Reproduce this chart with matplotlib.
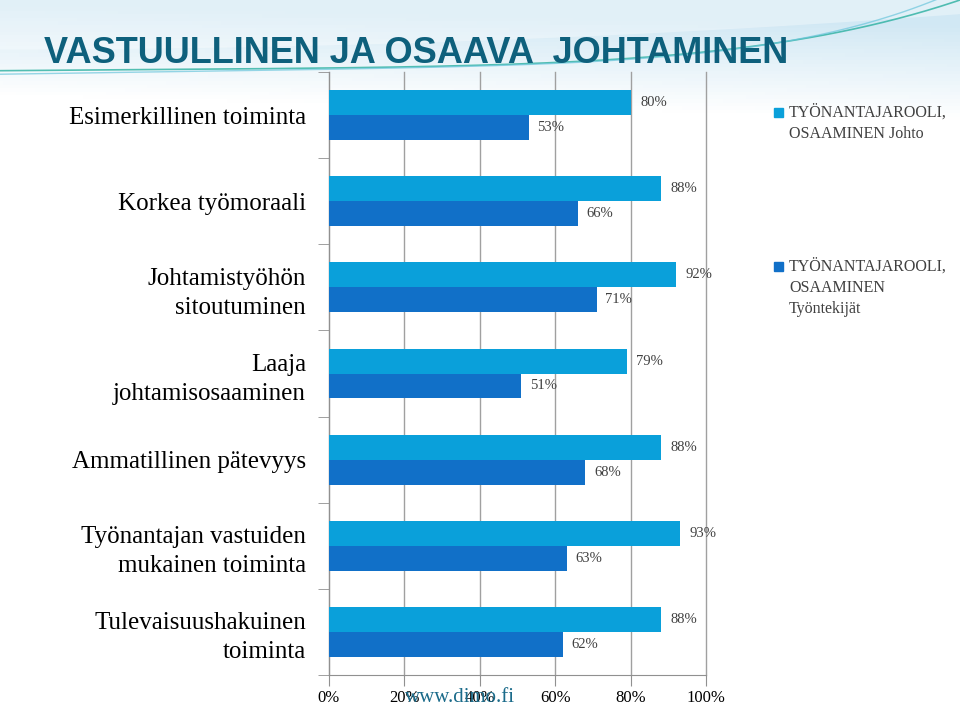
import numpy as np
import matplotlib
matplotlib.use("Agg")
import matplotlib.pyplot as plt

categories = ["Esimerkillinen toiminta", "Korkea työmoraali", "Johtamistyöhön\nsitoutuminen",
              "Laaja\njohtamisosaaminen", "Ammatillinen pätevyys",
              "Työnantajan vastuiden\nmukainen toiminta", "Tulevaisuushakuinen\ntoiminta"]
johto = [80, 88, 92, 79, 88, 93, 88]
tyontekijat = [53, 66, 71, 51, 68, 63, 62]
series_names = ["TYÖNANTAJAROOLI,\nOSAAMINEN Johto", "TYÖNANTAJAROOLI,\nOSAAMINEN\nTyöntekijät"]
xticks = [0, 20, 40, 60, 80, 100]

light = "#0AA0DA"
dark = "#1170C8"
serif = "Liberation Serif"

fig = plt.figure(figsize=(9.6, 7.07), dpi=100)

# background decoration
bg = fig.add_axes([0, 0, 1, 1], zorder=-10)
grad = np.linspace(0, 1, 200)[:, None] * np.ones((1, 300))
xx = np.linspace(0, 1, 300)[None, :]
alpha = np.clip(1 - grad * 7.5 + 0.25 * xx, 0, 1)
img = np.ones((200, 300, 4))
img[..., 0] = 0.82
img[..., 1] = 0.91
img[..., 2] = 0.96
img[..., 3] = alpha
bg.imshow(img, extent=[0, 1, 0, 1], aspect="auto", origin="upper")
t = np.linspace(0, 1, 200)
bg.plot(t, 0.9 + 0.01 * t + 0.09 * t ** 5, color="#2bb0a0", lw=1.2, alpha=0.8)
bg.plot(t, 0.895 + 0.02 * t + 0.1 * t ** 6, color="#6cc6dc", lw=1.0, alpha=0.7)
bg.fill_between(t, 0.93 + 0.05 * t ** 2, 1.0, color="white", alpha=0.35, lw=0)
bg.set_xlim(0, 1)
bg.set_ylim(0, 1)
bg.axis("off")

ax = fig.add_axes([329 / 960, 1 - 675 / 707, 377 / 960, (675 - 72) / 707])
y = np.arange(len(categories))
h = 0.29
ax.barh(y - h / 2, [v / 100 for v in johto], height=h, color=light, zorder=3)
ax.barh(y + h / 2, [v / 100 for v in tyontekijat], height=h, color=dark, zorder=3)

for i in range(len(categories)):
    ax.text(johto[i] / 100 + 0.025, y[i] - h / 2, f"{johto[i]}%", va="center", ha="left",
            fontsize=10.5, family=serif, color="#404040")
    ax.text(tyontekijat[i] / 100 + 0.023, y[i] + h / 2, f"{tyontekijat[i]}%", va="center", ha="left",
            fontsize=10.5, family=serif, color="#404040")

ax.set_xlim(0, 1)
ax.set_ylim(len(categories) - 0.5, -0.5)
ax.set_xticks([v / 100 for v in xticks])
ax.set_xticklabels([f"{v}%" for v in xticks], family=serif, fontsize=12)
ax.set_yticks(y)
ax.set_yticklabels(categories, family=serif, fontsize=18, linespacing=1.4)
ax.set_yticks(np.arange(len(categories) + 1) - 0.5, minor=True)
ax.tick_params(axis="y", which="major", length=0, pad=16.5)
ax.tick_params(axis="y", which="minor", length=8, color="#909090")
ax.tick_params(axis="x", length=8, color="#909090", pad=3)
ax.grid(axis="x", color="#a0a0a0", lw=1, zorder=0)
for gl in ax.get_xgridlines():
    gl.set_clip_on(False)
ax.set_facecolor("none")
for s in ["top", "right"]:
    ax.spines[s].set_visible(False)
ax.spines["left"].set_color("#909090")
ax.spines["bottom"].set_color("#909090")

fig.text(0.046, 0.924, "VASTUULLINEN JA OSAAVA  JOHTAMINEN", fontsize=26, fontweight="bold",
         color="#0E607C", family="Liberation Sans", va="center")

# legend
for yy, col, name in [(0.835, light, series_names[0]), (0.618, dark, series_names[1])]:
    fig.patches.append(plt.Rectangle((774 / 960, yy - 0.001), 0.0095, 0.013, color=col,
                                     transform=fig.transFigure, figure=fig))
    fig.text(789 / 960, yy + 0.017, name, fontsize=11.5, family=serif, color="#404040",
             va="top", ha="left", linespacing=1.45)

fig.text(0.422, 0.014, "www.dimo.fi", fontsize=15, family=serif, color="#1b6b8a", va="center")

fig.savefig("out.png", dpi=100)
